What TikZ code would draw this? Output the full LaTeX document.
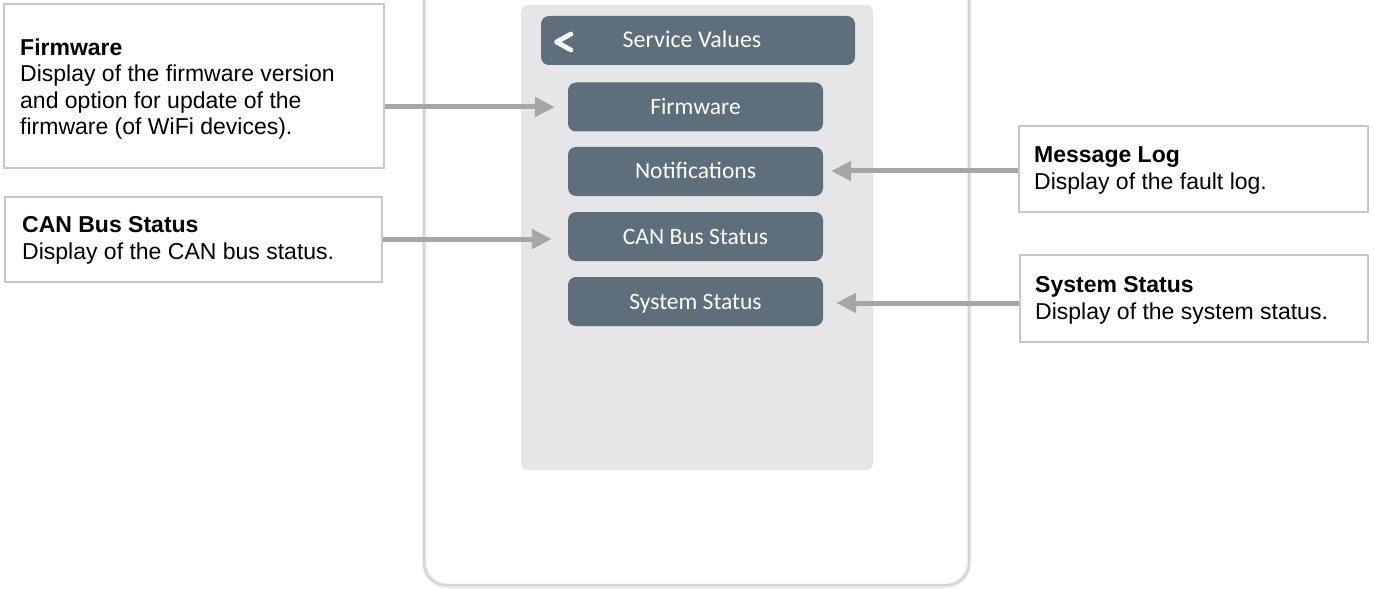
\documentclass[tikz,border=0pt]{standalone}
\usepackage{fontspec}
\setmainfont{Liberation Sans}
\newfontfamily\btnfont{Carlito}
\usetikzlibrary{arrows.meta,calc}
\definecolor{btn}{HTML}{5F6E7B}
\definecolor{panelgray}{HTML}{E6E6E8}
\definecolor{arrowgray}{HTML}{A6A6A6}
\definecolor{boxline}{HTML}{C8C8C8}
\definecolor{devline}{HTML}{D4D4D4}
\definecolor{devshadow}{HTML}{EEEEEE}
\begin{document}
\begin{tikzpicture}[x=1bp,y=-1bp,
  btnbox/.style={fill=btn, rounded corners=8bp, text=white,
    font=\btnfont\fontsize{23.5bp}{28bp}\selectfont,
    minimum width=255bp, minimum height=49bp, inner sep=0,
    text height=15bp, text depth=0bp},
  hdrbox/.style={fill=btn, rounded corners=8bp, minimum width=314bp, minimum height=49bp, inner sep=0},
  hdrtext/.style={text=white, font=\btnfont\fontsize{24bp}{28bp}\selectfont, inner sep=0, text height=15bp, text depth=0bp},
  panelbox/.style={fill=panelgray, rounded corners=7bp, minimum width=352bp, minimum height=465bp, inner sep=0},
  infobox/.style={draw=boxline, line width=1.4bp, fill=white, inner sep=0},
  infotext/.style={anchor=north west, inner sep=0, align=left,
    font=\fontsize{23bp}{26.5bp}\selectfont},
  arr/.style={draw=arrowgray, line width=5bp, -{Triangle[length=20bp,width=19bp]}}
]
\useasboundingbox (0,0) rectangle (1374,589);
\fill[white] (0,0) rectangle (1374,589);

% device outline
\draw[devshadow, line width=5bp, rounded corners=24bp] (424,0) -- (424,586) -- (969,586) -- (969,0);
\draw[devline, line width=2bp, rounded corners=22bp] (424,0) -- (424,585) -- (969,585) -- (969,0);

% screen panel
\node[panelbox] (panel) at (697,237.5) {};
\node[hdrbox] (header) at (698,40.5) {};
\node[hdrtext] (hdrtitle) at (692,40.5) {Service Values};
\draw[white, line width=4.8bp, line cap=round, line join=round] (571,34) -- (556.5,42) -- (571,50);

\node[btnbox] (fwbtn)  at (695.5,107)   {Firmware};
\node[btnbox] (notbtn) at (695.5,171.5) {Notifications};
\node[btnbox] (canbtn) at (695.5,236.5) {CAN Bus Status};
\node[btnbox] (sysbtn) at (695.5,301.5) {System Status};

% info boxes
\node[infobox, minimum width=380bp, minimum height=164bp] (fwbox)  at (194,86) {};
\node[infobox, minimum width=377bp, minimum height=85bp]  (canbox) at (193.5,239.5) {};
\node[infobox, minimum width=349bp, minimum height=86bp]  (logbox) at (1193.5,169) {};
\node[infobox, minimum width=348bp, minimum height=87bp]  (sysbox) at (1194,298.5) {};

\node[infotext] (fwtext) at (20,38.5) {\textbf{Firmware}\\Display of the firmware version\\and option for update of the\\firmware (of WiFi devices).};
\node[infotext] (cantext) at (22,216.5) {\textbf{CAN Bus Status}\\Display of the CAN bus status.};
\node[infotext] (logtext) at (1034,146.5) {\textbf{Message Log}\\Display of the fault log.};
\node[infotext] (systext) at (1035,276.5) {\textbf{System Status}\\Display of the system status.};

% connectors
\coordinate (fwtip)  at ($(fwbtn.west)+(-13,0)$);
\coordinate (cantip) at ($(canbtn.west)+(-16,2.5)$);
\coordinate (logtip) at ($(notbtn.east)+(8,-0.5)$);
\coordinate (systip) at ($(sysbtn.east)+(13,1.5)$);
\draw[arr] (fwtip -| fwbox.east) -- (fwtip);
\draw[arr] (cantip -| canbox.east) -- (cantip);
\draw[arr] (logtip -| logbox.west) -- (logtip);
\draw[arr] (systip -| sysbox.west) -- (systip);
\end{tikzpicture}
\end{document}
